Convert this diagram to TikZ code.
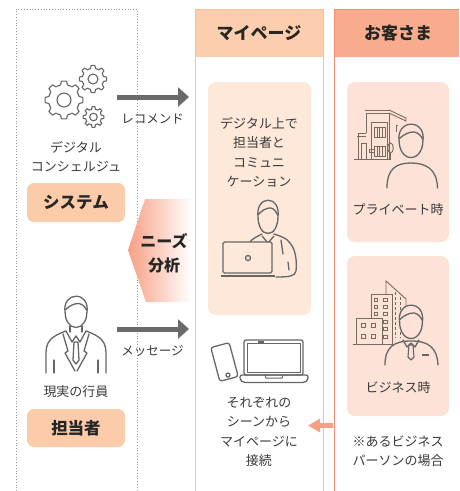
\documentclass[tikz,border=0pt]{standalone}
\usepackage{fontspec}
\setmainfont{Noto Sans CJK JP}
\usetikzlibrary{arrows.meta}

\definecolor{txt}{HTML}{3A3A3A}
\definecolor{midline}{HTML}{F8BE9C}
\definecolor{midhead}{HTML}{FCCEAE}
\definecolor{custline}{HTML}{EF8E72}
\definecolor{custhead}{HTML}{F9AB8E}
\definecolor{midfill}{HTML}{FDE8DA}
\definecolor{custfill}{HTML}{FDE2D8}
\definecolor{badgefill}{HTML}{FCCBA9}
\definecolor{needsL}{HTML}{F6A084}
\definecolor{arrowgray}{HTML}{6A6A6A}
\definecolor{arroworange}{HTML}{F4A081}
\definecolor{iconcol}{HTML}{666666}
\definecolor{housecol}{HTML}{776A63}
\definecolor{dotcol}{HTML}{9A9A9A}

% gear outline: centre x, centre y, teeth, root radius, tip radius, hole radius
\newcommand\gearicon[6]{%
  \begin{scope}[shift={(#1,#2)}]
    \pgfmathsetmacro\gearpitch{360/#3}
    \draw[icon, line width=1.1pt] ({-0.3*\gearpitch}:#4)
      \foreach \k in {1,...,#3}{
        -- ({(\k-1)*\gearpitch-0.17*\gearpitch}:#5)
        -- ({(\k-1)*\gearpitch+0.17*\gearpitch}:#5)
        -- ({(\k-1)*\gearpitch+0.3*\gearpitch}:#4)
        -- ({\k*\gearpitch-0.3*\gearpitch}:#4)
      } -- cycle;
    \draw[icon, line width=1.1pt] (0,0) circle (#6);
  \end{scope}}

% head with hair: centre x, centre y, half width, half height, fill colour
\newcommand\headicon[5]{%
  \begin{scope}[shift={(#1,#2)}, x=#3pt, y=-#4pt]
    \filldraw[icon, fill=#5] (0,1) .. controls (-0.6,1) and (-0.95,0.5) .. (-0.95,0)
      .. controls (-1.08,-0.6) and (-0.6,-1.02) .. (0,-1.02)
      .. controls (0.65,-1.02) and (1.08,-0.6) .. (0.95,0)
      .. controls (0.95,0.5) and (0.6,1) .. (0,1) -- cycle;
    \draw[icon] (-0.93,-0.15) .. controls (-0.55,-0.4) and (-0.2,-0.55) .. (0.25,-0.55)
      .. controls (0.6,-0.5) and (0.82,-0.3) .. (0.94,-0.1);
  \end{scope}}

\tikzset{
  icon/.style={draw=iconcol, line width=1.3pt, line join=round, line cap=round},
  bld/.style={draw=housecol, line width=0.9pt},
  bodytext/.style={text=txt, font=\fontsize{13}{19.5}\selectfont, align=center, inner sep=0pt},
  smalltext/.style={text=txt, font=\fontsize{12.5}{15}\selectfont, inner sep=0pt},
  headtext/.style={text=black!85, font=\fontsize{17}{20}\bfseries, inner sep=0pt},
  badge/.style={fill=badgefill, rounded corners=7pt, minimum width=98pt, text=black!85,
    font=\fontsize{16.5}{20}\bfseries, inner sep=0pt},
  panel/.style={rounded corners=8pt, inner sep=0pt},
  grayarrow/.style={draw=arrowgray, line width=5pt, -{Triangle[length=11pt,width=19pt]}},
  orangearrow/.style={draw=arroworange, line width=5pt, -{Triangle[length=12pt,width=13pt]}},
  dotframe/.style={draw=dotcol, line width=0.8pt, dotted},
}

\begin{document}
\begin{tikzpicture}[x=1pt, y=-1pt]
\useasboundingbox (0,0) rectangle (459,491);

% ---- left zone: system and staff ----
\draw[dotframe] (16,491) -- (16,9) -- (137,9) -- (137,491);

% ---- My Page column ----
\fill[midhead] (195,9) rectangle (323,57);
\draw[midline, line width=1pt] (195,491) -- (195,9) -- (323,9) -- (323,491);
\node[headtext] (mypage) at (259,33) {マイページ};

% ---- customer column ----
\fill[custhead] (334,9) rectangle (459,57);
\draw[custline, line width=1pt] (334,491) -- (334,9) -- (459,9);
\node[headtext] (customer) at (398,33) {お客さま};

% ---- panels ----
\node[panel, fill=midfill, minimum width=103pt, minimum height=233pt] (talkbox) at (259.5,198.5) {};
\node[panel, fill=custfill, minimum width=102pt, minimum height=160pt] (privbox) at (398,162) {};
\node[panel, fill=custfill, minimum width=102pt, minimum height=160pt] (bizbox) at (398,336) {};

% ---- gears ----
\gearicon{64}{100}{8}{15.5}{19}{7}
\gearicon{93}{79}{8}{10.8}{13.8}{5}
\gearicon{93.5}{117}{8}{8}{10.5}{3.8}

\node[bodytext] (concierge) at (76,156.5) {デジタル\\コンシェルジュ};
\node[badge, minimum height=39pt] (system) at (76,202.5) {システム};

% ---- arrows from the left zone ----
\coordinate (recA) at (117,97);
\coordinate (recB) at (189,97);
\draw[grayarrow] (recA) -- (recB);
\node[smalltext] (recommend) at (152.5,118.5) {レコメンド};

\coordinate (msgA) at (117,329);
\coordinate (msgB) at (189,329);
\draw[grayarrow] (msgA) -- (msgB);
\node[smalltext] (message) at (152.5,351) {メッセージ};

% ---- needs analysis ----
\shade[left color=needsL, right color=white] (145,199) -- (191,199) -- (191,302) -- (146,302) -- (128,250) -- cycle;
\node[text=black!85, font=\fontsize{16}{24}\bfseries, align=center, inner sep=0pt] (needs) at (164,253) {ニーズ\\分析};

% ---- staff member ----
\draw[icon] (46,373) -- (46,353) .. controls (46,341) and (52,336) .. (66,331);
\draw[icon] (106,373) -- (106,353) .. controls (106,341) and (100,336) .. (86,331);
\draw[icon] (54,360) -- (54,373);
\draw[icon] (98,360) -- (98,373);
\draw[icon] (70,326) -- (70,332);
\draw[icon] (82,326) -- (82,332);
\draw[icon] (66,331) -- (72,342) -- (76,336) -- (80,342) -- (86,331);
\draw[icon] (63,334) -- (68,351) -- (65,353) -- (75,371);
\draw[icon] (89,334) -- (84,351) -- (87,353) -- (77,371);
\draw[icon] (74,342) -- (78,342) -- (79,360) -- (76,364) -- (73,360) -- cycle;
\headicon{76}{312}{11.5}{15.5}{white}
\node[bodytext] (banker) at (76,392) {現実の行員};
\node[badge, minimum height=38pt] (tantou) at (76,428) {担当者};

% ---- My Page: talking with the staff member ----
\node[bodytext] (talktext) at (259,152.5) {デジタル上で\\担当者と\\コミュニ\\ケーション};
\draw[icon] (262,234) .. controls (256,237) and (252,239) .. (250,242);
\draw[icon] (274,234) .. controls (280,236) and (287,238) .. (290,243)
  .. controls (296,250) and (297,262) .. (296,271) .. controls (295,276) and (290,277) .. (276,277);
\draw[icon] (262,236) -- (268,243) -- (274,236);
\draw[icon] (281,240) -- (283,254);
\draw[icon] (288,262) -- (289,270);
\headicon{268}{217}{10.5}{16.5}{midfill}
\filldraw[icon, fill=midfill, rounded corners=1.5pt] (223,242) rectangle (272,273);
\draw[icon] (248,258) circle (2.5);
\draw[icon, line width=2.4pt, line cap=butt] (221,276) -- (275,276);

% ---- My Page: devices ----
\begin{scope}[shift={(224.5,362)}, rotate=15]
  \draw[icon, rounded corners=2.5pt] (-9.5,-17.5) rectangle (9.5,17.5);
  \draw[icon] (0,13.5) circle (2);
\end{scope}
\draw[icon, rounded corners=2pt] (244,340) rectangle (303,375);
\draw[icon, line width=1pt] (247,343) rectangle (300,372);
\draw[icon, line width=1.8pt, line cap=butt] (258,342) -- (264,342);
\draw[icon, rounded corners=2pt] (240,375) -- (308,375) -- (308,380) -- (305,382.5) -- (243,382.5) -- (240,380) -- cycle;
\draw[icon, line width=1pt] (265,375) -- (266,378) -- (282,378) -- (283,375);
\node[bodytext] (connecttext) at (259,432) {それぞれの\\シーンから\\マイページに\\接続};

% ---- customer: private ----
\draw[bld] (354,159) -- (391,159);
\draw[bld] (358,159) -- (358,133) -- (366,133);
\draw[bld] (357,136) -- (366,136);
\draw[bld] (361,159) -- (361,143) -- (366,143) -- (366,159);
\draw[bld] (366,133) -- (366,113) -- (389,113) -- (389,159);
\draw[bld] (365,110) -- (390,110);
\draw[bld] (371,159) -- (371,122) -- (387,122) -- (387,159);
\foreach \wy in {127,146}{
  \draw[bld] (374,\wy) rectangle (385,\wy+10);
  \foreach \wx in {377,379.7,382.4}{ \draw[bld] (\wx,\wy) -- (\wx,\wy+10); }
}
\draw[bld] (389,110) -- (406,118) -- (406,121) -- (389,113);
\draw[bld] (398,125) -- (396,125) -- (396,132);
\draw[bld] (390.5,148) ellipse (2.8 and 5);
\draw[bld] (390.5,153) -- (390.5,159);
\draw[bld] (369,149) rectangle (374,152.5);
\draw[bld] (371.5,152.5) -- (371.5,159);
\draw[icon] (387,188) .. controls (387,169) and (396,163) .. (411,163)
  .. controls (426,163) and (437,169) .. (437.5,188);
\headicon{411}{141}{12.5}{16.5}{custfill}
\node[bodytext] (private) at (398,210) {プライベート時};

% ---- customer: business ----
\draw[bld] (386,344) -- (386,281) -- (406,299) -- (406,318);
\draw[bld, dash pattern=on 3pt off 2pt] (395,292) -- (395,338);
\draw[bld, dash pattern=on 3pt off 2pt] (400,297) -- (400,338);
\filldraw[bld, fill=custfill] (371,294) rectangle (392,344);
\foreach \wy in {298,305,312,320,327,335}{
  \draw[bld] (374,\wy) rectangle +(3.5,3.5);
  \draw[bld] (383.5,\wy) rectangle +(3.5,3.5);
}
\filldraw[bld, fill=custfill] (356,318) rectangle (382,344);
\foreach \wy in {323,334}{
  \draw[bld] (361,\wy) rectangle +(4.5,4.5);
  \draw[bld] (371,\wy) rectangle +(4.5,4.5);
}
\draw[bld] (353,344) -- (392,344);
\draw[icon] (385,365) .. controls (385,347) and (394,341) .. (411,341)
  .. controls (428,341) and (437,347) .. (438,365);
\draw[icon] (403,340) -- (407,347) -- (411,343) -- (415,347) -- (419,340);
\draw[icon, line width=1.1pt] (409,345) -- (413,345) -- (414,357) -- (411,360) -- (408,357) -- cycle;
\draw[icon, line width=1.8pt, line cap=butt] (422,355) -- (429,355);
\headicon{411}{322}{12}{16.5}{custfill}
\node[bodytext] (business) at (398,388) {ビジネス時};

\node[bodytext] (note) at (398,451) {※あるビジネス\\パーソンの場合};

% ---- access from each scene ----
\coordinate (accA) at (333,425.5);
\coordinate (accB) at (308,425.5);
\draw[orangearrow] (accA) -- (accB);
\end{tikzpicture}
\end{document}
